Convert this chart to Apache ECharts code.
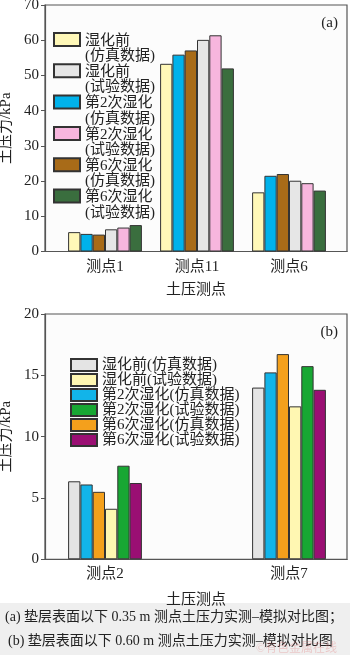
<!DOCTYPE html>
<html>
<head>
<meta charset="utf-8">
<script src="https://cdn.jsdelivr.net/npm/echarts@6/dist/echarts.min.js"></script>
<style>
  html, body { margin: 0; padding: 0; background: #fff; }
  #main { width: 350px; height: 655px; }
</style>
</head>
<body>
<div id="main"></div>
<script>
// (a) 0.35 m 测点
var catsA = ['测点1', '测点11', '测点6'];
var aSimBefore  = [5.5, 53.3, 16.8];   // 湿化前 仿真
var aTestBefore = [6.3, 60.1, 20.1];   // 湿化前 试验
var aSim2       = [5.0, 55.9, 21.5];   // 第2次 仿真
var aTest2      = [6.8, 61.4, 19.4];   // 第2次 试验
var aSim6       = [4.8, 57.1, 22.0];   // 第6次 仿真
var aTest6      = [7.5, 52.0, 17.3];   // 第6次 试验
var yTicksA = [0, 70, 10];

// (b) 0.60 m 测点
var catsB = ['测点2', '测点7'];
var bSimBefore  = [6.36, 14.0];
var bTestBefore = [4.12, 12.47];
var bSim2       = [6.1, 15.24];
var bTest2      = [7.63, 15.75];
var bSim6       = [5.5, 16.73];
var bTest6      = [6.22, 13.82];
var yTicksB = [0, 20, 5];

var serif = "'Liberation Serif', 'Noto Sans CJK SC'";
var txt = '#222';

var myChart = echarts.init(document.getElementById('main'));

function bar(name, data, color, xi, yi) {
    return {
        name: name,
        type: 'bar',
        xAxisIndex: xi,
        yAxisIndex: yi,
        barWidth: 12.3,
        barGap: '0%',
        itemStyle: { color: color, borderColor: '#333', borderWidth: 1 },
        data: data
    };
}

function frameY(grid, t) {
    return {
        gridIndex: grid, type: 'value', min: t[0], max: t[1], interval: t[2],
        name: '土压力/kPa', nameLocation: 'middle', nameGap: 29,
        nameTextStyle: { fontFamily: serif, fontSize: 15, color: txt },
        axisLine: { show: true, lineStyle: { color: '#555', width: 1.2 } },
        axisTick: { show: true, inside: false, length: 4, lineStyle: { color: '#555' } },
        axisLabel: { margin: 6, fontFamily: serif, fontSize: 15, color: txt },
        splitLine: { show: false }
    };
}

function frameX(grid, gap) {
    return {
        gridIndex: grid, type: 'value', min: 0, max: 1,
        name: '土压测点', nameLocation: 'middle', nameGap: gap,
        nameTextStyle: { fontFamily: serif, fontSize: 15, color: txt },
        axisLine: { show: true, lineStyle: { color: '#555', width: 1.2 } },
        axisTick: { show: false }, axisLabel: { show: false }, splitLine: { show: false }
    };
}

var namesA = ['湿化前\n(仿真数据)', '湿化前\n(试验数据)', '第2次湿化\n(仿真数据)',
              '第2次湿化\n(试验数据)', '第6次湿化\n(仿真数据)', '第6次湿化\n(试验数据)'];
var namesB = ['湿化前(仿真数据)', '湿化前(试验数据)', '第2次湿化(仿真数据)',
              '第2次湿化(试验数据)', '第6次湿化(仿真数据)', '第6次湿化(试验数据)'];

// box on the first text line: path box is 26x13, the extra moveTo makes it 31 high
var boxIcon = 'path://M0,0H26V13H0ZM0,31';

var option = {
    animation: false,
    backgroundColor: '#fff',
    title: [
        { text: '(a)', right: 7, top: 11, textStyle: { fontFamily: serif, fontSize: 15, fontWeight: 'normal', color: txt } },
        { text: '(b)', right: 7, top: 320, textStyle: { fontFamily: serif, fontSize: 15, fontWeight: 'normal', color: txt } }
    ],
    grid: [
        { left: 45, right: 3, top: 5, bottom: 403.5, show: true, borderColor: '#555', borderWidth: 1.2, backgroundColor: '#fcfcfc', outerBoundsMode: 'none' },
        { left: 59, right: 15, top: 5, bottom: 403.5, outerBoundsMode: 'none' },
        { left: 45, right: 3, top: 314, bottom: 95.7, show: true, borderColor: '#555', borderWidth: 1.2, backgroundColor: '#fcfcfc', outerBoundsMode: 'none' },
        { left: 13, width: 368, top: 314, bottom: 95.7, outerBoundsMode: 'none' }
    ],
    legend: [
        {
            orient: 'vertical', left: 48, top: 27,
            icon: boxIcon, itemWidth: 26, itemHeight: 31, itemGap: -1.7,
            data: namesA,
            textStyle: { fontFamily: serif, fontSize: 15, lineHeight: 15.5, color: txt }
        },
        {
            orient: 'vertical', left: 65, top: 352.5,
            icon: 'rect', itemWidth: 26, itemHeight: 12, itemGap: 0,
            data: namesB,
            textStyle: { fontFamily: serif, fontSize: 15, lineHeight: 15, color: txt }
        }
    ],
    xAxis: [
        frameX(0, 31),
        {
            gridIndex: 1, type: 'category', data: catsA,
            axisLine: { show: false }, axisTick: { show: false },
            axisLabel: { margin: 8, fontFamily: serif, fontSize: 15, color: txt }
        },
        frameX(2, 33),
        {
            gridIndex: 3, type: 'category', data: catsB,
            axisLine: { show: false }, axisTick: { show: false },
            axisLabel: { margin: 7, fontFamily: serif, fontSize: 15, color: txt }
        }
    ],
    yAxis: [
        frameY(0, yTicksA),
        { gridIndex: 1, type: 'value', min: yTicksA[0], max: yTicksA[1], show: false },
        frameY(2, yTicksB),
        { gridIndex: 3, type: 'value', min: yTicksB[0], max: yTicksB[1], show: false }
    ],
    series: [
        // (a) 仿真 first, then 试验
        bar(namesA[0], aSimBefore,  '#FFF8B8', 1, 1),
        bar(namesA[2], aSim2,       '#00B2EB', 1, 1),
        bar(namesA[4], aSim6,       '#A86B18', 1, 1),
        bar(namesA[1], aTestBefore, '#E6E6E6', 1, 1),
        bar(namesA[3], aTest2,      '#F7B6DE', 1, 1),
        bar(namesA[5], aTest6,      '#3A6E3E', 1, 1),
        // (b)
        bar(namesB[0], bSimBefore,  '#E4E4E4', 3, 3),
        bar(namesB[2], bSim2,       '#12B4E9', 3, 3),
        bar(namesB[4], bSim6,       '#F4A01C', 3, 3),
        bar(namesB[1], bTestBefore, '#FFF7B2', 3, 3),
        bar(namesB[3], bTest2,      '#18A733', 3, 3),
        bar(namesB[5], bTest6,      '#9A0F73', 3, 3)
    ],
    graphic: [
        { type: 'rect', left: 0, top: 603, shape: { width: 350, height: 52 }, style: { fill: '#efefef' }, z: -1 },
        { type: 'text', left: 5, top: 610, style: { text: '(a) 垫层表面以下 0.35 m 测点土压力实测–模拟对比图；', font: '14px ' + serif, fill: '#222' } },
        { type: 'text', left: 8, top: 634, style: { text: '(b) 垫层表面以下 0.60 m 测点土压力实测–模拟对比图', font: '14px ' + serif, fill: '#222' } },
        { type: 'text', left: 256, top: 643, style: { text: '©有色金属在线', font: '12px ' + serif, fill: 'rgba(225,110,110,0.3)' } }
    ]
};

myChart.setOption(option);
</script>
</body>
</html>
